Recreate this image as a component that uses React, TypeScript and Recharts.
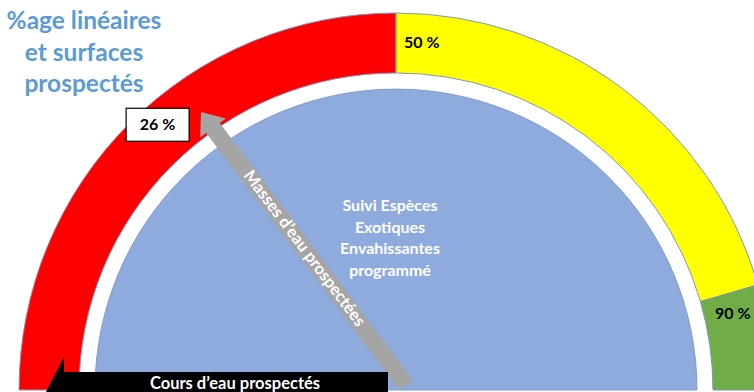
import React from 'react';
import { PieChart, Pie, Cell } from 'recharts';

const ringBands = [
  { name: 'rouge', value: 50 },
  { name: 'jaune', value: 41 },
  { name: 'vert', value: 9 },
];
const ringColors = ['#FF0000', '#FFFF00', '#70AD47'];
const thresholdLabels = ['50 %', '90 %'];
const pointerValue = 26;
const pointerLabel = '26 %';
const discData = [{ name: 'disc', value: 1 }];
const titleLines = ['%age linéaires', 'et surfaces', 'prospectés'];
const centerLines = ['Suivi Espèces', 'Exotiques', 'Envahissantes', 'programmé'];
const arrowLabels = ["Masses d\u2019eau prospectées", "Cours d\u2019eau prospectés"];

const W = 754;
const H = 392;
const CX = 396;
const CY = 390;
const R_OUT = 377;
const R_IN = 317;
const R_DISC = 301;
const FONT = 'Lato, "Open Sans", sans-serif';

function arrowPoints(bx: number, by: number, tx: number, ty: number, w: number, hw: number, hl: number) {
  const dx = tx - bx;
  const dy = ty - by;
  const len = Math.sqrt(dx * dx + dy * dy);
  const ux = dx / len;
  const uy = dy / len;
  const nx = -uy;
  const ny = ux;
  const hx = tx - ux * hl;
  const hy = ty - uy * hl;
  const pts = [
    [bx + nx * w, by + ny * w],
    [hx + nx * w, hy + ny * w],
    [hx + nx * hw, hy + ny * hw],
    [tx, ty],
    [hx - nx * hw, hy - ny * hw],
    [hx - nx * w, hy - ny * w],
    [bx - nx * w, by - ny * w],
  ];
  return pts.map((p) => p[0].toFixed(1) + ',' + p[1].toFixed(1)).join(' ');
}

function Overlay() {
  const ang = ((180 - (pointerValue / 100) * 180) * Math.PI) / 180;
  const lr = 357;
  const lx = CX + lr * Math.cos(ang) + 6;
  const ly = CY - lr * Math.sin(ang) - 5;
  const gBase = [406, 385];
  const gTip = [201, 112];
  const gAngle = (Math.atan2(gBase[1] - gTip[1], gBase[0] - gTip[0]) * 180) / Math.PI;
  return (
    <svg width={W} height={H} style={{ position: 'absolute', left: 0, top: 0 }}>
      {/* title */}
      <text x={84} textAnchor="middle" fontFamily={FONT} fontWeight="bold" fontSize={24.5} fill="#5B9BD5">
        {titleLines.map((t, i) => (
          <tspan key={i} x={84} y={29 + i * 31.5}>{t}</tspan>
        ))}
      </text>
      {/* threshold labels */}
      <text x={404} y={48} fontFamily={FONT} fontWeight="bold" fontSize={16} fill="#000">{thresholdLabels[0]}</text>
      <text x={715} y={319} fontFamily={FONT} fontWeight="bold" fontSize={16} fill="#000">{thresholdLabels[1]}</text>
      {/* center text */}
      <text textAnchor="middle" fontFamily={FONT} fontWeight="bold" fontSize={16} fill="#FFFFFF">
        {centerLines.map((t, i) => (
          <tspan key={i} x={390} y={211 + i * 21.7}>{t}</tspan>
        ))}
      </text>
      {/* grey arrow */}
      <polygon points={arrowPoints(gBase[0], gBase[1], gTip[0], gTip[1], 8.5, 16, 20)} fill="#A5A5A5" />
      <text
        x={305}
        y={248}
        textAnchor="middle"
        dominantBaseline="central"
        fontFamily={FONT}
        fontWeight="bold"
        fontSize={16.5}
        fill="#FFFFFF"
        transform={`rotate(${gAngle.toFixed(2)} 305 248)`}
      >
        {arrowLabels[0]}
      </text>
      {/* black arrow */}
      <polygon points="46,392 64,357 64,372 388,372 388,412 64,412 64,427" fill="#000000" />
      <text x={235} y={389} textAnchor="middle" fontFamily={FONT} fontWeight="bold" fontSize={16.5} fill="#FFFFFF">
        {arrowLabels[1]}
      </text>
      {/* pointer label */}
      <rect x={lx - 31.5} y={ly - 16.5} width={63} height={33} fill="#FFFFFF" stroke="#000000" strokeWidth={1.2} />
      <text x={lx} y={ly + 5.5} textAnchor="middle" fontFamily={FONT} fontWeight="bold" fontSize={16} fill="#000">
        {pointerLabel}
      </text>
    </svg>
  );
}

export default function App() {
  return (
    <div style={{ position: 'absolute', left: 0, top: 0, width: W, height: H, background: '#FFFFFF', overflow: 'hidden' }}>
      <PieChart width={W} height={H} margin={{ top: 0, right: 0, bottom: 0, left: 0 }}>
        <Pie
          data={ringBands}
          dataKey="value"
          cx={CX}
          cy={CY}
          startAngle={180}
          endAngle={0}
          innerRadius={R_IN}
          outerRadius={R_OUT}
          stroke="#8096BA"
          strokeWidth={1}
          isAnimationActive={false}
        >
          {ringBands.map((d, i) => (
            <Cell key={d.name} fill={ringColors[i]} />
          ))}
        </Pie>
        <Pie
          data={discData}
          dataKey="value"
          cx={CX}
          cy={CY}
          startAngle={180}
          endAngle={0}
          innerRadius={0}
          outerRadius={R_DISC}
          fill="#8FAADC"
          stroke="#7F9CCB"
          strokeWidth={1}
          isAnimationActive={false}
        />
      </PieChart>
      <Overlay />
    </div>
  );
}
